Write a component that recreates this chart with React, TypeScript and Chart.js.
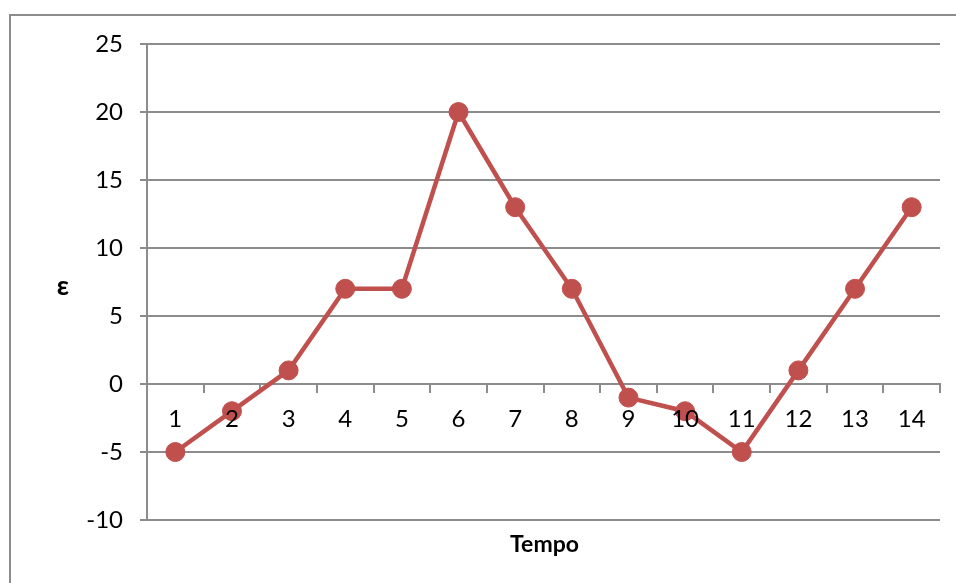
import React, { useEffect, useRef } from "react";
import { Chart, registerables } from "chart.js";

Chart.register(...registerables);

const categories: string[] = ["1", "2", "3", "4", "5", "6", "7", "8", "9", "10", "11", "12", "13", "14"];
const epsilonValues: number[] = [-5, -2, 1, 7, 7, 20, 13, 7, -1, -2, -5, 1, 7, 13];
const yMin = -10;
const yMax = 25;
const yStep = 5;
const yTitle = "ε";
const xTitle = "Tempo";

const FONT = "Lato, 'Open Sans', sans-serif";
const GRID = "#8c8c8c";
const RED = "#C0504D";

const decorPlugin = {
  id: "decor",
  beforeDraw(chart: any) {
    const ctx = chart.ctx;
    ctx.save();
    ctx.strokeStyle = GRID;
    ctx.lineWidth = 2;
    ctx.beginPath();
    ctx.moveTo(10, 583);
    ctx.lineTo(10, 15);
    ctx.lineTo(956, 15);
    ctx.stroke();
    ctx.restore();
  },
  afterDraw(chart: any) {
    const ctx = chart.ctx;
    const a = chart.chartArea;
    ctx.save();
    ctx.fillStyle = "#000";
    ctx.textAlign = "center";
    ctx.textBaseline = "middle";
    ctx.font = `bold 27px ${FONT}`;
    ctx.fillText(yTitle, 63, (a.top + a.bottom) / 2 + 4);
    ctx.font = `bold 23px ${FONT}`;
    ctx.fillText(xTitle, (a.left + a.right) / 2 + 1, a.bottom + 25);
    ctx.restore();
  },
};

export default function App() {
  const ref = useRef<HTMLCanvasElement | null>(null);

  useEffect(() => {
    if (!ref.current) return;
    const chart = new Chart(ref.current, {
      type: "line",
      data: {
        labels: categories,
        datasets: [
          {
            data: epsilonValues,
            borderColor: RED,
            backgroundColor: RED,
            borderWidth: 4.5,
            pointRadius: 9.5,
            pointHoverRadius: 9.5,
            pointBackgroundColor: RED,
            pointBorderColor: RED,
            pointBorderWidth: 1,
            tension: 0,
            clip: false as any,
          },
        ],
      },
      options: {
        responsive: false,
        animation: false,
        layout: { padding: { left: 0, top: 44, right: 16, bottom: 63 } },
        plugins: {
          legend: { display: false },
          tooltip: { enabled: false },
          title: { display: false },
        },
        scales: {
          x: {
            type: "category",
            position: { y: 0 } as any,
            offset: true,
            afterFit(scale: any) {
              scale.height = 0;
            },
            grid: {
              display: true,
              drawOnChartArea: false,
              drawTicks: true,
              tickLength: 8,
              offset: true,
              color: GRID,
              lineWidth: 2,
            },
            border: { display: true, color: GRID, width: 2 },
            ticks: {
              z: 1,
              color: "#000",
              font: { family: FONT, size: 24 },
              padding: 13,
              maxRotation: 0,
              autoSkip: false,
            },
          },
          y: {
            type: "linear",
            min: yMin,
            max: yMax,
            afterFit(scale: any) {
              scale.width = 147;
            },
            grid: {
              display: true,
              drawTicks: true,
              tickLength: 7,
              color: GRID,
              lineWidth: 2,
            },
            border: { display: true, color: GRID, width: 2 },
            ticks: {
              stepSize: yStep,
              color: "#000",
              font: { family: FONT, size: 24 },
              padding: 17,
            },
          },
        },
      },
      plugins: [decorPlugin],
    });
    return () => chart.destroy();
  }, []);

  return (
    <div style={{ position: "absolute", left: 0, top: 0, width: 956, height: 583, overflow: "hidden", background: "#fff" }}>
      <canvas ref={ref} width={956} height={583} style={{ display: "block", width: 956, height: 583 }} />
    </div>
  );
}
